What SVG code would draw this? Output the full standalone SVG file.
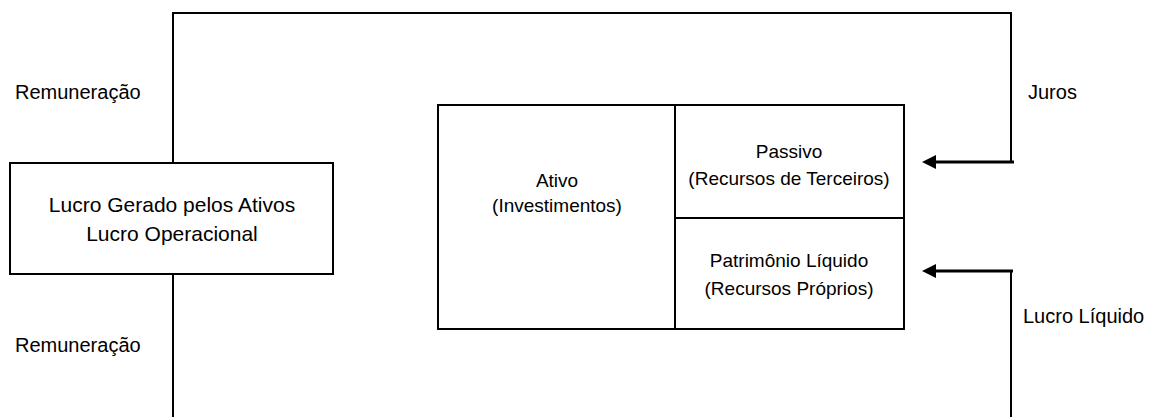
<svg xmlns="http://www.w3.org/2000/svg" width="1158" height="417" viewBox="0 0 1158 417">
  <style>
    text { font-family: "Liberation Sans", Arial, sans-serif; fill: #000; }
    .lbl { font-size: 20px; }
    .big { font-size: 21px; text-anchor: middle; }
    .mid { font-size: 19px; text-anchor: middle; }
    .box { fill: #fff; stroke: #000; stroke-width: 2; }
    .wire { fill: none; stroke: #000; stroke-width: 2; }
    .shaft { fill: none; stroke: #000; stroke-width: 3; }
  </style>
  <defs>
    <marker id="head" viewBox="0 0 14 14" refX="1" refY="7" markerWidth="14" markerHeight="14" markerUnits="userSpaceOnUse" orient="auto">
      <path d="M14,0 L0,7 L14,14 Z" fill="#000"/>
    </marker>
  </defs>

  <!-- connectors -->
  <g id="connectors">
    <polyline class="wire" points="173,163 173,13 1011,13 1011,162"/>
    <line class="wire" x1="173" y1="274" x2="173" y2="417"/>
    <line class="wire" x1="1011" y1="271" x2="1011" y2="417"/>
    <line class="shaft" x1="1014" y1="162" x2="935" y2="162"/>
    <path d="M922,162 L936,155 L936,169 Z" fill="#000"/>
    <line class="shaft" x1="1013" y1="271" x2="935" y2="271"/>
    <path d="M922,271 L936,264 L936,278 Z" fill="#000"/>
  </g>

  <!-- flow labels -->
  <g id="labels">
    <text class="lbl" x="15" y="99">Remuneração</text>
    <text class="lbl" x="15" y="352">Remuneração</text>
    <text class="lbl" x="1028" y="99">Juros</text>
    <text class="lbl" x="1023" y="323">Lucro Líquido</text>
  </g>

  <!-- operating profit -->
  <g id="lucro-operacional">
    <rect class="box" x="10" y="163" width="323" height="111"/>
    <text class="big" x="172" y="212">Lucro Gerado pelos Ativos</text>
    <text class="big" x="172" y="241">Lucro Operacional</text>
  </g>

  <!-- assets -->
  <g id="ativo">
    <rect class="box" x="438" y="105" width="237" height="224"/>
    <text class="mid" x="557" y="187">Ativo</text>
    <text class="mid" x="557" y="212">(Investimentos)</text>
  </g>

  <!-- liabilities -->
  <g id="passivo">
    <rect class="box" x="675" y="105" width="229" height="113"/>
    <text class="mid" x="789" y="158">Passivo</text>
    <text class="mid" x="789" y="185">(Recursos de Terceiros)</text>
  </g>

  <!-- equity -->
  <g id="patrimonio-liquido">
    <rect class="box" x="675" y="218" width="229" height="111"/>
    <text class="mid" x="789" y="267">Patrimônio Líquido</text>
    <text class="mid" x="789" y="295">(Recursos Próprios)</text>
  </g>
</svg>
